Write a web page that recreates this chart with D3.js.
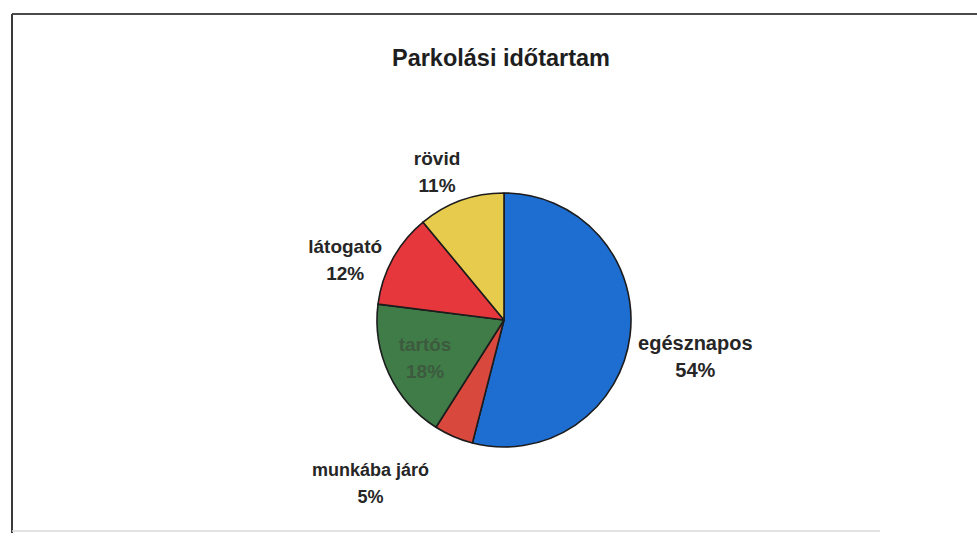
<!DOCTYPE html>
<html>
<head>
<meta charset="utf-8">
<script src="https://cdn.jsdelivr.net/npm/d3@7"></script>
<style>
  html, body { margin: 0; padding: 0; background: #fff; }
  svg { display: block; }
  text { font-family: "Liberation Sans", Arial, sans-serif; }
</style>
</head>
<body>
<svg id="chart" width="977" height="537"></svg>
<script>
const title = "Parkolási időtartam";
const categories = ["egésznapos", "munkába járó", "tartós", "látogató", "rövid"];
const values = [54, 5, 18, 12, 11];
const colors = ["#1e6dd0", "#d9483c", "#3f7c48", "#e6373d", "#e6cb4c"];

const W = 977, H = 537;
const cx = 504, cy = 320, R = 127;

const svg = d3.select("#chart");

// scanned frame
svg.append("line").attr("x1", 12).attr("y1", 14).attr("x2", W).attr("y2", 14)
  .attr("stroke", "#4a4a4a").attr("stroke-width", 2);
svg.append("line").attr("x1", 12).attr("y1", 14).attr("x2", 12).attr("y2", 533)
  .attr("stroke", "#3a3a3a").attr("stroke-width", 2);
svg.append("line").attr("x1", 12).attr("y1", 531).attr("x2", 880).attr("y2", 531)
  .attr("stroke", "#d8d8d8").attr("stroke-width", 1.5);

// title
svg.append("text")
  .attr("x", 501).attr("y", 66)
  .attr("text-anchor", "middle")
  .attr("font-size", 23).attr("font-weight", "bold")
  .attr("fill", "#1e1e1e")
  .attr("textLength", 218).attr("lengthAdjust", "spacingAndGlyphs")
  .text(title);

const data = categories.map((c, i) => ({ name: c, value: values[i], color: colors[i] }));
const pie = d3.pie().sort(null).value(d => d.value);
const arc = d3.arc().innerRadius(0).outerRadius(R);
const arcs = pie(data);

const g = svg.append("g").attr("transform", `translate(${cx},${cy})`);
g.selectAll("path").data(arcs).join("path")
  .attr("d", arc)
  .attr("fill", d => d.data.color)
  .attr("stroke", "#1c1c1c")
  .attr("stroke-width", 1.6)
  .attr("stroke-linejoin", "round");

// labels: positioned radially from each slice's mid-angle, with small nudges
const labelRadius = {
  "egésznapos": 1.55, "munkába járó": 1.3, "tartós": 0.6, "látogató": 1.4, "rövid": 1.3
};
const labelShift = {
  "egésznapos": [-4, 9], "munkába járó": [-68, 8], "tartós": [-10, 3], "látogató": [-3, 23], "rövid": [-11, 4]
};
const labelSize = {
  "egésznapos": 20, "munkába járó": 18, "tartós": 19, "látogató": 19, "rövid": 19
};

arcs.forEach(a => {
  const mid = (a.startAngle + a.endAngle) / 2;
  const k = labelRadius[a.data.name] * R;
  const s = labelShift[a.data.name];
  const x = cx + Math.sin(mid) * k + s[0];
  const y = cy - Math.cos(mid) * k + s[1];
  const inside = a.data.name === "tartós";
  const t = svg.append("text")
    .attr("text-anchor", "middle")
    .attr("font-size", labelSize[a.data.name]).attr("font-weight", "bold")
    .attr("fill", inside ? "#3d5a3e" : "#262626");
  t.append("tspan").attr("x", x).attr("y", y - 4).text(a.data.name);
  t.append("tspan").attr("x", x).attr("y", y + 23).text(a.data.value + "%");
});
</script>
</body>
</html>
